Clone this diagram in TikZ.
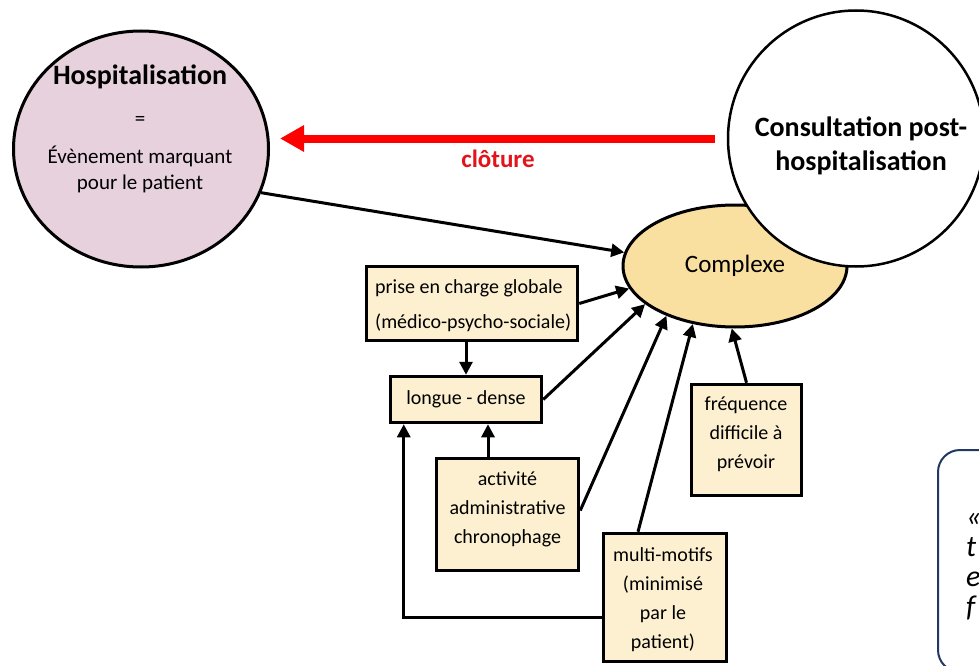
\documentclass[tikz,border=0pt]{standalone}
\usepackage{fontspec}
\setmainfont{Carlito}
\usetikzlibrary{shapes.geometric,arrows.meta}
\definecolor{pinkfill}{HTML}{E6D1DD}
\definecolor{boxfill}{HTML}{FDF0D0}
\definecolor{cplxfill}{HTML}{F9E0A0}
\definecolor{navy}{HTML}{203864}
\definecolor{clored}{HTML}{E2131B}
\begin{document}
\begin{tikzpicture}[x=1pt,y=-1pt,
  box/.style={draw, line width=3.5pt, fill=boxfill, rectangle, inner sep=0pt},
  txt/.style={inner sep=0pt, align=center, font=\fontsize{20}{29}\selectfont},
  title/.style={inner sep=0pt, align=center, font=\fontsize{28}{34}\selectfont\bfseries},
  arr/.style={line width=3pt, -{Triangle[length=13pt,width=13pt]}},
  redarr/.style={line width=8pt, red, -{Triangle[length=24pt,width=25pt]}}]
\useasboundingbox (0,0) rectangle (979,666);
\clip (0,0) rectangle (979,666);
\fill[white] (0,0) rectangle (979,666);

% main shapes
\node[ellipse, draw, line width=3pt, fill=cplxfill, minimum width=224pt, minimum height=122pt, inner sep=0pt,
      font=\fontsize{25}{30}\selectfont] (cplx) at (735,266) {Complexe};
\node[circle, draw, line width=2.5pt, fill=white, minimum size=256pt, inner sep=0pt] (cons) at (856,138.5) {};
\node[title, anchor=base] (const) at (861,170) {Consultation post-\\[0pt]hospitalisation};
\node[ellipse, draw, line width=3pt, fill=pinkfill, minimum width=255pt, minimum height=236pt, inner sep=0pt] (hosp) at (141,149) {};
\node[title, anchor=base] (hospt) at (140,85) {Hospitalisation};
\node[inner sep=0pt, anchor=base, font=\fontsize{21}{26}\selectfont] (hospeq) at (140,125) {=};
\node[inner sep=0pt, anchor=base, align=center, font=\fontsize{21}{26}\selectfont] (hospd) at (140,189) {Évènement marquant\\pour le patient};

% red arrow
\draw[redarr] ([xshift=-12pt]cons.west) -- ([xshift=10pt]hosp.east |- cons.west);
\node[inner sep=0pt, anchor=base, text=clored, font=\fontsize{25}{30}\selectfont\bfseries] (clot) at (498,167) {clôture};

% boxes
\node[box, minimum width=211pt, minimum height=74pt] (prise) at (472,303.5) {};
\node[txt, align=left, anchor=base west, font=\fontsize{20}{35}\selectfont] (priset) at (375,328) {prise en charge globale\\(médico-psycho-sociale)};
\node[box, minimum width=151pt, minimum height=46pt, font=\fontsize{20}{29}\selectfont] (longue) at (466,399.5) {longue - dense};
\node[box, minimum width=142pt, minimum height=112pt] (act) at (507.5,514.5) {};
\node[txt, anchor=base] (actt) at (507.5,543) {activité\\administrative\\chronophage};
\node[box, minimum width=123pt, minimum height=128pt] (multi) at (665,597.5) {};
\node[txt, anchor=base] (multit) at (663,648) {multi-motifs\\(minimisé\\par le\\patient)};
\node[box, minimum width=110pt, minimum height=111pt] (freq) at (746.5,440) {};
\node[txt, anchor=base] (freqt) at (746,468) {fréquence\\difficile à\\prévoir};

% quote box (cut by the right edge)
\node[draw=navy, line width=2pt, rounded corners=22pt, minimum width=162pt, minimum height=222pt, inner sep=0pt] (quote) at (1019,561) {};
\node[inner sep=0pt, anchor=base west, align=left, font=\fontsize{30}{30}\selectfont\itshape] (quotet) at (966,616) {«\\t\\e\\f};

% connectors
\draw[arr] (hosp.-20) -- (cplx.173);
\draw[arr] (prise.east) -- (cplx.192);
\draw[arr] (longue.east) -- (cplx.203);
\draw[arr] ([yshift=4pt]act.east) -- (cplx.216);
\draw[arr] ([xshift=-27pt]multi.north) -- (cplx.234);
\draw[arr] (freq.north) -- (cplx.267);
\draw[arr] (prise.south -| longue.north) -- (longue.north);
\draw[arr] ([xshift=-19.5pt]act.north) coordinate (a1) -- (a1 |- longue.south);
\draw[arr] ([yshift=-19.5pt]multi.west) -| ([xshift=15pt]longue.south west);
\end{tikzpicture}
\end{document}
